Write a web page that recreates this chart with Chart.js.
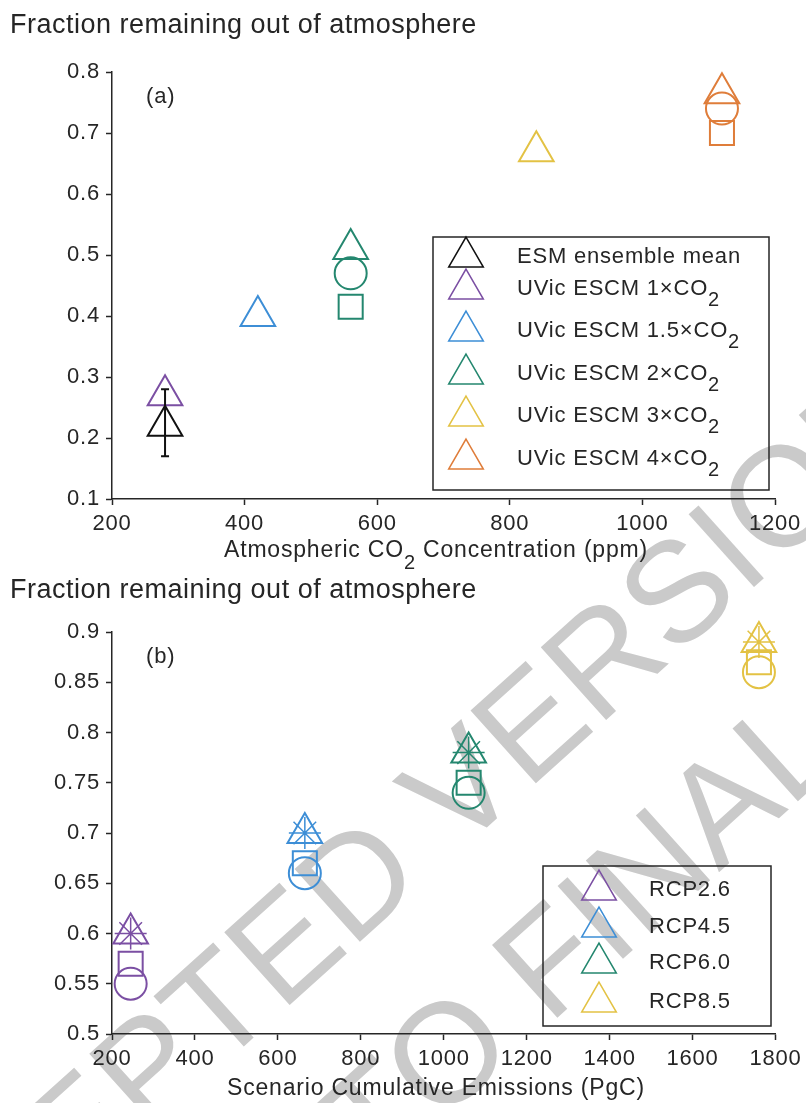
<!DOCTYPE html>
<html>
<head>
<meta charset="utf-8">
<script src="https://cdn.jsdelivr.net/npm/chart.js@4.4.0/dist/chart.umd.min.js"></script>
<style>
  html, body { margin: 0; padding: 0; background: #fff; }
  body { width: 806px; height: 1103px; position: relative; overflow: hidden;
         font-family: "Liberation Sans", Arial, Helvetica, sans-serif; color: #262626; }
  #wm { position: absolute; left: 0; top: 0; z-index: 0; }
  .panel { position: absolute; left: 0; z-index: 1; }
  .title { position: absolute; left: 10px; font-size: 27px; line-height: 1; letter-spacing: 0.5px; white-space: nowrap; z-index: 2; }
  .xlabel { position: absolute; left: 136px; width: 600px; text-align: center; font-size: 23px; line-height: 1;
            letter-spacing: 0.8px; white-space: nowrap; z-index: 2; }
  .xlabel sub { font-size: 20px; vertical-align: -12px; line-height: 0; }
</style>
</head>
<body>
<canvas id="wm" width="806" height="1103"></canvas>
<div class="title" style="top:11px">Fraction remaining out of atmosphere</div>
<canvas id="chartA" class="panel" style="top:0" width="806" height="570"></canvas>
<div class="xlabel" style="top:538px">Atmospheric CO<sub>2</sub> Concentration (ppm)</div>
<div class="title" style="top:576px">Fraction remaining out of atmosphere</div>
<canvas id="chartB" class="panel" style="top:560px" width="806" height="543"></canvas>
<div class="xlabel" style="top:1076px">Scenario Cumulative Emissions (PgC)</div>

<script>
// ---- panel (a): fraction vs CO2 concentration ----
const co2Levels = [280, 420, 560, 840, 1120];
const uvicLabels = ['UVic ESCM 1\u00d7CO', 'UVic ESCM 1.5\u00d7CO', 'UVic ESCM 2\u00d7CO', 'UVic ESCM 3\u00d7CO', 'UVic ESCM 4\u00d7CO'];
const uvicTriangle = [0.27, 0.40, 0.51, 0.67, 0.765];
const uvicCircle = [null, null, 0.47, null, 0.74];
const uvicSquare = [null, null, 0.415, null, 0.70];
const esmCo2 = [280];
const esmMean = [0.22];
const esmLow = [0.17];
const esmHigh = [0.28];
const xTicksA = [200, 400, 600, 800, 1000, 1200];
const yTicksA = [0.1, 0.2, 0.3, 0.4, 0.5, 0.6, 0.7, 0.8];

// ---- panel (b): fraction vs cumulative emissions ----
const rcpLabels = ['RCP2.6', 'RCP4.5', 'RCP6.0', 'RCP8.5'];
const rcpEmissions = [245, 665, 1060, 1760];
const rcpTriangle = [0.60, 0.70, 0.78, 0.89];
const rcpStar = [0.60, 0.70, 0.78, 0.89];
const rcpSquare = [0.57, 0.67, 0.75, 0.87];
const rcpCircle = [0.55, 0.66, 0.74, 0.86];
const xTicksB = [200, 400, 600, 800, 1000, 1200, 1400, 1600, 1800];
const yTicksB = [0.5, 0.55, 0.6, 0.65, 0.7, 0.75, 0.8, 0.85, 0.9];

const axisColor = '#262626';
const fontFamily = '"Liberation Sans", Arial, Helvetica, sans-serif';
const levelColors = ['#7b4fa3', '#3d8ed6', '#24876f', '#e3c244', '#df7d3a'];

function points(xs, ys) {
  const out = [];
  xs.forEach((x, i) => { if (ys[i] !== null) out.push({ x: x, y: ys[i] }); });
  return out;
}

function markerSet(label, xs, ys, palette, style, radius, width) {
  return {
    label: label,
    data: points(xs, ys),
    clip: false,
    pointStyle: style,
    pointRadius: radius,
    pointHoverRadius: radius,
    pointBorderWidth: width,
    pointHoverBorderWidth: width,
    pointBorderColor: palette.filter((c, i) => ys[i] !== null),
    pointBackgroundColor: 'rgba(0,0,0,0)',
    showLine: false
  };
}

function axis(min, max, tickValues, fit) {
  return {
    type: 'linear',
    min: min,
    max: max,
    afterBuildTicks: s => { s.ticks = tickValues.map(v => ({ value: v })); },
    afterFit: fit,
    grid: { drawOnChartArea: false, drawTicks: true, tickLength: 6, tickWidth: 1.5, color: axisColor },
    border: { display: true, color: axisColor, width: 1.5 },
    ticks: {
      color: axisColor,
      font: { family: fontFamily, size: 22 },
      padding: 6,
      maxRotation: 0,
      autoSkip: false,
      callback: v => String(v)
    }
  };
}

const spacing = {
  id: 'spacing',
  beforeDraw(chart) { chart.ctx.letterSpacing = '0.8px'; }
};

function panelTag(tag) {
  return {
    id: 'panelTag',
    afterDraw(chart) {
      const ctx = chart.ctx;
      ctx.save();
      ctx.font = '22px ' + fontFamily;
      ctx.fillStyle = axisColor;
      ctx.textBaseline = 'middle';
      ctx.fillText(tag, 146, 97);
      ctx.restore();
    }
  };
}

// legend in a box inside the plot area
function boxLegend(box, items) {
  return {
    id: 'boxLegend',
    afterDraw(chart) {
      const ctx = chart.ctx;
      ctx.save();
      ctx.strokeStyle = axisColor;
      ctx.lineWidth = 1.5;
      ctx.strokeRect(box.left, box.top, box.right - box.left, box.bottom - box.top);
      items.forEach((it, i) => {
        const y = box.rows[i];
        ctx.strokeStyle = it.color;
        ctx.fillStyle = 'rgba(0,0,0,0)';
        Chart.helpers.drawPoint(ctx, { pointStyle: 'triangle', radius: 20, borderWidth: 2, rotation: 0 }, box.markerX, y);
        ctx.fillStyle = axisColor;
        ctx.font = '22px ' + fontFamily;
        ctx.textBaseline = 'middle';
        ctx.fillText(it.text, box.textX, y);
        if (it.sub) {
          const w = ctx.measureText(it.text).width;
          ctx.font = '20px ' + fontFamily;
          ctx.fillText(it.sub, box.textX + w, y + 11);
        }
      });
      ctx.restore();
    }
  };
}

const esmBars = {
  id: 'esmBars',
  afterDatasetsDraw(chart) {
    const ctx = chart.ctx;
    const xs = chart.scales.x, ys = chart.scales.y;
    ctx.save();
    ctx.strokeStyle = '#111';
    ctx.lineWidth = 2;
    esmCo2.forEach((c, i) => {
      const x = xs.getPixelForValue(c);
      const y1 = ys.getPixelForValue(esmLow[i]);
      const y2 = ys.getPixelForValue(esmHigh[i]);
      ctx.beginPath();
      ctx.moveTo(x, y1); ctx.lineTo(x, y2);
      ctx.moveTo(x - 4, y1); ctx.lineTo(x + 4, y1);
      ctx.moveTo(x - 4, y2); ctx.lineTo(x + 4, y2);
      ctx.stroke();
    });
    ctx.restore();
  }
};

const commonOptions = (xAxis, yAxis, pad) => ({
  responsive: false,
  animation: false,
  events: [],
  layout: { padding: pad },
  plugins: { legend: { display: false }, tooltip: { enabled: false } },
  scales: { x: xAxis, y: yAxis }
});

new Chart(document.getElementById('chartA'), {
  type: 'scatter',
  data: {
    datasets: [
      markerSet('ESM ensemble mean', esmCo2, esmMean, ['#111'], 'triangle', 20, 2),
      markerSet('UVic triangle', co2Levels, uvicTriangle, levelColors, 'triangle', 20, 2),
      markerSet('UVic circle', co2Levels, uvicCircle, levelColors, 'circle', 16, 2),
      markerSet('UVic square', co2Levels, uvicSquare, levelColors, 'rect', 17, 2)
    ]
  },
  options: commonOptions(
    axis(200, 1200, xTicksA, s => { s.height = 71; }),
    axis(0.1, 0.8, yTicksA, s => { s.width = 112; }),
    { top: 72, right: 31, bottom: 0, left: 0 }
  ),
  plugins: [spacing, esmBars, panelTag('(a)'), boxLegend(
    { left: 433, top: 237, right: 769, bottom: 490, markerX: 466, textX: 517, rows: [257, 289, 331, 374, 416, 459] },
    [{ text: 'ESM ensemble mean', sub: '', color: '#111' }].concat(
      uvicLabels.map((t, i) => ({ text: t, sub: '2', color: levelColors[i] })))
  )]
});

new Chart(document.getElementById('chartB'), {
  type: 'scatter',
  data: {
    datasets: [
      markerSet('triangle', rcpEmissions, rcpTriangle, levelColors, 'triangle', 20, 2),
      markerSet('star', rcpEmissions, rcpStar, levelColors, 'star', 16, 1.5),
      markerSet('square', rcpEmissions, rcpSquare, levelColors, 'rect', 17, 2),
      markerSet('circle', rcpEmissions, rcpCircle, levelColors, 'circle', 16, 2)
    ]
  },
  options: commonOptions(
    axis(200, 1800, xTicksB, s => { s.height = 69; }),
    axis(0.5, 0.9, yTicksB, s => { s.width = 112; }),
    { top: 72, right: 30, bottom: 0, left: 0 }
  ),
  plugins: [spacing, panelTag('(b)'), boxLegend(
    { left: 543, top: 306, right: 771, bottom: 466, markerX: 599, textX: 649, rows: [330, 367, 403, 442] },
    rcpLabels.map((t, i) => ({ text: t, sub: '', color: levelColors[i] }))
  )]
});

// faint diagonal stamp behind both panels
(function drawWatermark() {
  const ctx = document.getElementById('wm').getContext('2d');
  const size = 142;
  ctx.font = size + 'px ' + fontFamily;
  ctx.fillStyle = '#cacaca';
  const angle = -42 * Math.PI / 180;
  const lines = [
    { text: 'ACCEPTED VERSION', before: 'ACCEPTED ', mid: 'V', x: 458, y: 785 },
    { text: 'SUBJECT TO FINAL EDITS', before: 'SUBJECT TO FIN', mid: 'A', x: 720, y: 803 }
  ];
  lines.forEach(l => {
    const off = ctx.measureText(l.before).width + ctx.measureText(l.mid).width / 2;
    ctx.save();
    ctx.translate(l.x, l.y);
    ctx.rotate(angle);
    ctx.fillText(l.text, -off, 0.358 * size);
    ctx.restore();
  });
})();
</script>
</body>
</html>
